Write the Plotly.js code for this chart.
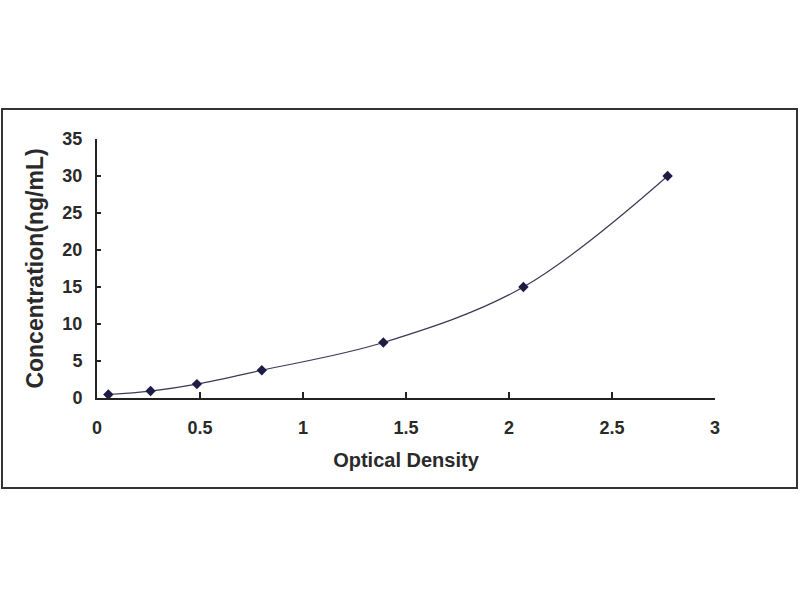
<!DOCTYPE html>
<html>
<head>
<meta charset="utf-8">
<script src="https://cdn.plot.ly/plotly-3.0.1.min.js"></script>
<style>html,body{margin:0;padding:0;background:#fff;} #chart{width:800px;height:600px;}</style>
</head>
<body>
<div id="chart"></div>
<script>
var opticalDensity = [0.055, 0.26, 0.485, 0.80, 1.39, 2.07, 2.77];
var concentration = [0.47, 0.94, 1.88, 3.75, 7.5, 15, 30];
var xTickVals = [0, 0.5, 1, 1.5, 2, 2.5, 3];
var xTickText = ['0', '0.5', '1', '1.5', '2', '2.5', '3'];
var yTickVals = [0, 5, 10, 15, 20, 25, 30, 35];
var yTickText = ['0', '5', '10', '15', '20', '25', '30', '35'];

var L = 97, R = 715, T = 139, B = 398, W = 800, H = 600;
function px(xp){ return (xp - L) / (R - L); }
function py(yp){ return (B - yp) / (B - T); }

var traces = [{
  x: opticalDensity,
  y: concentration,
  type: 'scatter',
  mode: 'lines+markers',
  line: {shape: 'spline', smoothing: 1, color: '#3a3a55', width: 1.2},
  marker: {symbol: 'diamond', size: 8, color: '#1c1c45'},
  cliponaxis: false,
  hoverinfo: 'x+y'
}];

var fontBold = 'Liberation Sans, Arial, sans-serif';

var layout = {
  width: W, height: H,
  margin: {l: L, r: W - R, t: T, b: H - B, pad: 0},
  paper_bgcolor: '#ffffff',
  plot_bgcolor: '#ffffff',
  showlegend: false,
  font: {family: fontBold, color: '#222222'},
  xaxis: {
    range: [0, 3],
    tickmode: 'array', tickvals: xTickVals, ticktext: xTickText,
    ticks: 'inside', ticklen: 6, tickwidth: 2, tickcolor: '#222',
    showline: true, linecolor: '#222', linewidth: 2,
    showgrid: false, zeroline: false,
    ticklabelstandoff: 12,
    tickfont: {family: fontBold, size: 18, color: '#2a2a2a', weight: 'bold'},
    title: {text: '<b>Optical Density</b>', font: {family: fontBold, size: 20, color: '#2a2a2a'}, standoff: 16}
  },
  yaxis: {
    range: [0, 35],
    tickmode: 'array', tickvals: yTickVals, ticktext: yTickText,
    ticks: 'inside', ticklen: 4, tickwidth: 2, tickcolor: '#222',
    showline: true, linecolor: '#222', linewidth: 2,
    showgrid: false, zeroline: false,
    ticklabelstandoff: 9,
    tickfont: {family: fontBold, size: 18, color: '#2a2a2a', weight: 'bold'},
    title: {text: '<b>Concentration(ng/mL)</b>', font: {family: fontBold, size: 23, color: '#2a2a2a'}, standoff: 12}
  },
  shapes: [{
    type: 'rect', xref: 'paper', yref: 'paper', layer: 'below',
    x0: px(2), x1: px(797), y0: py(488), y1: py(109),
    line: {color: '#333333', width: 2}, fillcolor: 'rgba(0,0,0,0)'
  }]
};

Plotly.newPlot('chart', traces, layout, {staticPlot: true, displayModeBar: false});
</script>
</body>
</html>
